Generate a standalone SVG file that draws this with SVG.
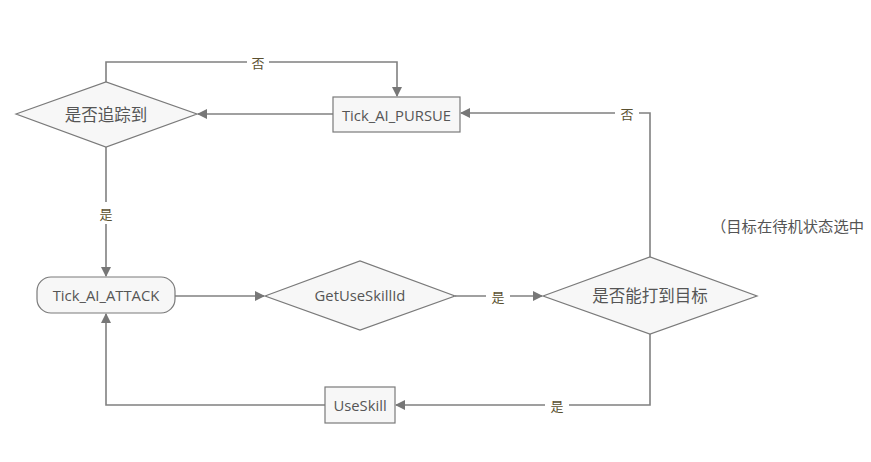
<svg xmlns="http://www.w3.org/2000/svg" width="871" height="462" viewBox="0 0 871 462">
<defs>
<marker id="arr" markerWidth="10" markerHeight="10" refX="9" refY="5" orient="auto" markerUnits="userSpaceOnUse">
<path d="M0,0 L10,5 L0,10 Z" fill="#777"/>
</marker>
<style>
.n{fill:#f7f7f7;stroke:#7a7a7a;stroke-width:1.2}
.t{font-family:"Open Sans","Noto Sans CJK SC",sans-serif;font-size:14.8px;fill:#555;text-anchor:middle;dominant-baseline:central}
.z{font-family:"Noto Sans CJK SC",sans-serif;font-size:16.5px;fill:#555;text-anchor:middle;dominant-baseline:central}
.c{fill:none;stroke:#808080;stroke-width:1.6}
.l{font-family:"Noto Sans CJK SC",sans-serif;font-size:13px;fill:#5a5030;text-anchor:middle;dominant-baseline:central}
.lb{fill:#fff}
</style>
</defs>
<rect width="871" height="462" fill="#fff"/>
<g id="connectors">
<path class="c" d="M106,82 V62 H397 V96" marker-end="url(#arr)"/>
<path class="c" d="M333,114 H198" marker-end="url(#arr)"/>
<path class="c" d="M650,257 V113 H461" marker-end="url(#arr)"/>
<path class="c" d="M106,147 V276" marker-end="url(#arr)"/>
<path class="c" d="M175,296 H264" marker-end="url(#arr)"/>
<path class="c" d="M455,296 H542" marker-end="url(#arr)"/>
<path class="c" d="M650,334 V405 H396" marker-end="url(#arr)"/>
<path class="c" d="M325,405 H106 V314" marker-end="url(#arr)"/>
<rect class="lb" x="247" y="54" width="22" height="16"/>
<text class="l" x="258" y="62">否</text>
<rect class="lb" x="615" y="105" width="24" height="16"/>
<text class="l" x="627" y="113">否</text>
<rect class="lb" x="98" y="202" width="16" height="22"/>
<text class="l" x="106" y="213">是</text>
<rect class="lb" x="486" y="288" width="24" height="16"/>
<text class="l" x="498" y="296">是</text>
<rect class="lb" x="545" y="397" width="24" height="16"/>
<text class="l" x="557" y="405">是</text>
</g>
<g id="node-chase">
<polygon class="n" points="16,114 106,82 197,114 106,147"/>
<text class="z" x="106" y="114">是否追踪到</text>
</g>
<g id="node-pursue">
<rect class="n" x="333" y="97" width="127" height="35"/>
<text class="t" x="396.5" y="114.5">Tick_AI_PURSUE</text>
</g>
<g id="node-attack">
<rect class="n" x="37" y="277" width="138" height="36" rx="14"/>
<text class="t" x="106" y="295">Tick_AI_ATTACK</text>
</g>
<g id="node-getskill">
<polygon class="n" points="265,296 360,261 455,296 360,330"/>
<text class="t" x="360" y="295">GetUseSkillId</text>
</g>
<g id="node-canhit">
<polygon class="n" points="543,296 650,257 757,296 650,334"/>
<text class="z" x="650" y="295">是否能打到目标</text>
</g>
<g id="node-useskill">
<rect class="n" x="325" y="387" width="70" height="36"/>
<text class="t" x="360" y="405">UseSkill</text>
</g>
<g id="note">
<text x="711" y="225" style="font-family:'Noto Sans CJK SC',sans-serif;font-size:15.3px;fill:#555;dominant-baseline:central">（目标在待机状态选中</text>
</g>
</svg>
